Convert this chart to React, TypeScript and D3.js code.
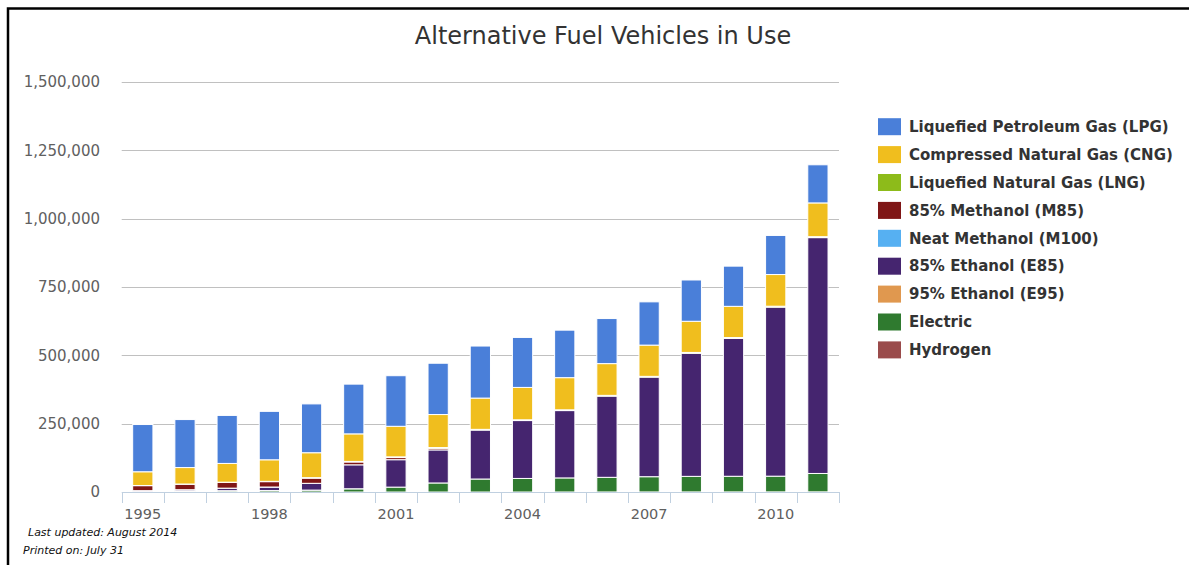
import { useEffect, useRef } from 'react';
import * as d3 from 'd3';

const years = ['1995', '1996', '1997', '1998', '1999', '2000', '2001', '2002', '2003',
  '2004', '2005', '2006', '2007', '2008', '2009', '2010', '2011'];

// vehicles in use, per fuel
const lpg = [172806, 175585, 175679, 177183, 178610, 181994, 185053, 187680, 190369,
  182864, 173795, 164846, 158254, 151049, 147030, 143037, 139477];
const cng = [50218, 60144, 68571, 78782, 91267, 100750, 111851, 120839, 114406,
  118532, 117699, 116131, 114270, 113973, 114270, 115863, 123533];
const lng = [603, 663, 813, 1172, 1681, 2090, 2576, 2708, 2640,
  2717, 2748, 2798, 2781, 3101, 3176, 3354, 3436];
const m85 = [18319, 20265, 21040, 19648, 18964, 10426, 7827, 5873, 0,
  0, 0, 0, 0, 0, 0, 0, 0];
const m100 = [386, 172, 172, 200, 198, 0, 0, 0, 0,
  0, 0, 0, 0, 0, 0, 0, 0];
const e85 = [1527, 4536, 9130, 12788, 24604, 87570, 100303, 120951, 179090,
  211800, 246363, 297099, 364384, 450327, 504297, 618505, 862837];
const e95 = [136, 361, 347, 14, 14, 4, 0, 0, 0,
  0, 0, 0, 0, 0, 0, 0, 0];
const electric = [2860, 3280, 4453, 5243, 6964, 11830, 17847, 33047, 47485,
  49536, 51398, 53526, 55730, 56901, 57185, 57462, 67295];
const hydrogen = [0, 0, 0, 0, 0, 0, 0, 0, 9,
  43, 119, 159, 223, 313, 357, 421, 520];

const seriesNames = ['Liquefied Petroleum Gas (LPG)', 'Compressed Natural Gas (CNG)',
  'Liquefied Natural Gas (LNG)', '85% Methanol (M85)', 'Neat Methanol (M100)',
  '85% Ethanol (E85)', '95% Ethanol (E95)', 'Electric', 'Hydrogen'];
const seriesValues = [lpg, cng, lng, m85, m100, e85, e95, electric, hydrogen];
const seriesColors = ['#4a7fd9', '#f0be1e', '#8dbb1a', '#7f1616', '#56b0f2',
  '#45256f', '#e0984f', '#2f7a2f', '#9a4b4b'];

const yTicks = [0, 250000, 500000, 750000, 1000000, 1250000, 1500000];
const xLabels = ['1995', '1998', '2001', '2004', '2007', '2010'];

const font = '"DejaVu Sans", Verdana, sans-serif';

export default function App() {
  const ref = useRef<SVGSVGElement | null>(null);

  useEffect(() => {
    const svg = d3.select(ref.current);
    svg.selectAll('*').remove();

    const plot = { left: 121.7, right: 839, top: 82, bottom: 492 };

    const x = d3.scaleBand<string>()
      .domain(years)
      .range([plot.left, plot.right])
      .paddingInner(0.52)
      .paddingOuter(0.26);

    const y = d3.scaleLinear()
      .domain([0, 1500000])
      .range([plot.bottom, plot.top]);

    // frame
    svg.append('path')
      .attr('d', 'M8,565V8.5H1189')
      .attr('fill', 'none')
      .attr('stroke', '#000')
      .attr('stroke-width', 2.5);

    svg.append('text')
      .attr('x', 603)
      .attr('y', 43.5)
      .attr('text-anchor', 'middle')
      .attr('font-family', font)
      .attr('font-size', 24)
      .attr('fill', '#333')
      .text('Alternative Fuel Vehicles in Use');

    // grid + y labels
    const grid = svg.append('g');
    yTicks.forEach(t => {
      if (t > 0) {
        grid.append('line')
          .attr('x1', plot.left).attr('x2', plot.right)
          .attr('y1', Math.round(y(t)) + 0.5).attr('y2', Math.round(y(t)) + 0.5)
          .attr('stroke', '#c0c0c0')
          .attr('stroke-width', 1);
      }
      grid.append('text')
        .attr('x', 100)
        .attr('y', y(t))
        .attr('dy', '0.35em')
        .attr('text-anchor', 'end')
        .attr('font-family', font)
        .attr('font-size', 15)
        .attr('fill', '#606060')
        .text(d3.format(',')(t));
    });

    // stacked bars, bottom series first
    const keys = seriesNames.slice().reverse();
    const rows = years.map((yr, i) => {
      const row: any = { year: yr };
      seriesNames.forEach((n, s) => { row[n] = seriesValues[s][i]; });
      return row;
    });
    const stacked = d3.stack<any>().keys(keys)(rows);

    const bars = svg.append('g');
    stacked.forEach(layer => {
      const color = seriesColors[seriesNames.indexOf(layer.key)];
      bars.append('g')
        .attr('fill', color)
        .selectAll('rect')
        .data(layer.filter(d => d[1] - d[0] > 0))
        .join('rect')
        .attr('x', d => x(d.data.year)!)
        .attr('width', x.bandwidth())
        .attr('y', d => y(d[1]))
        .attr('height', d => y(d[0]) - y(d[1]))
        .attr('stroke', '#fff')
        .attr('stroke-width', 1);
    });

    // x axis
    const axis = svg.append('g');
    axis.append('line')
      .attr('x1', plot.left).attr('x2', plot.right)
      .attr('y1', plot.bottom + 0.5).attr('y2', plot.bottom + 0.5)
      .attr('stroke', '#c0d0e0');
    d3.range(years.length + 1).forEach(i => {
      const tx = Math.round(plot.left + i * x.step()) + 0.5;
      axis.append('line')
        .attr('x1', tx).attr('x2', tx)
        .attr('y1', plot.bottom).attr('y2', plot.bottom + 11)
        .attr('stroke', '#c0d0e0');
    });
    xLabels.forEach(l => {
      axis.append('text')
        .attr('x', x(l)! + x.bandwidth() / 2)
        .attr('y', 519)
        .attr('text-anchor', 'middle')
        .attr('font-family', font)
        .attr('font-size', 14.5)
        .attr('fill', '#606060')
        .text(l);
    });

    // legend
    const legend = svg.append('g');
    seriesNames.forEach((n, i) => {
      const cy = 126.7 + i * 27.9;
      legend.append('rect')
        .attr('x', 878)
        .attr('y', cy - 8.5)
        .attr('width', 23)
        .attr('height', 17)
        .attr('fill', seriesColors[i]);
      legend.append('text')
        .attr('x', 909)
        .attr('y', cy)
        .attr('dy', '0.35em')
        .attr('font-family', font)
        .attr('font-size', 15)
        .attr('font-weight', 'bold')
        .attr('fill', '#333')
        .text(n);
    });

    // footer notes
    svg.append('text')
      .attr('x', 28).attr('y', 536)
      .attr('font-family', font)
      .attr('font-size', 11)
      .attr('font-style', 'italic')
      .attr('fill', '#111')
      .text('Last updated: August 2014');
    svg.append('text')
      .attr('x', 23).attr('y', 554)
      .attr('font-family', font)
      .attr('font-size', 11)
      .attr('font-style', 'italic')
      .attr('fill', '#111')
      .text('Printed on: July 31');
  }, []);

  return (
    <svg
      ref={ref}
      width={1189}
      height={565}
      style={{ position: 'absolute', left: 0, top: 0, background: '#fff' }}
    />
  );
}
